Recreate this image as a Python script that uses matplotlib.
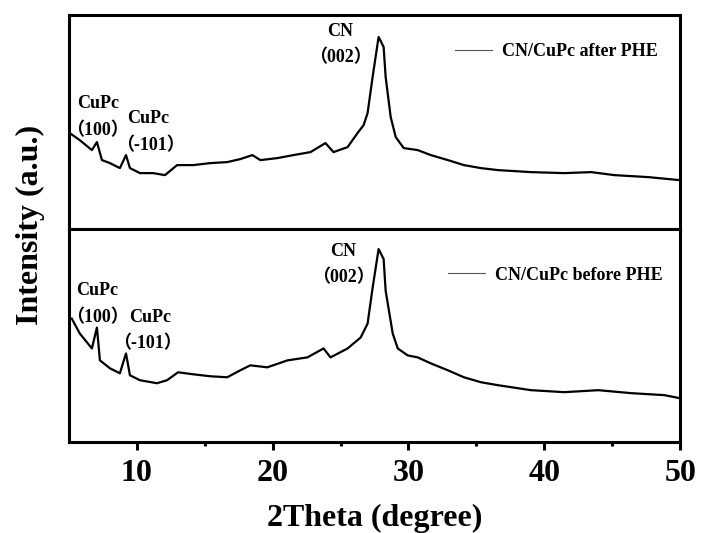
import matplotlib
matplotlib.use("Agg")
import matplotlib.pyplot as plt

# 2theta / intensity (a.u., panel-relative)
theta_after = [5.07, 5.8, 6.7, 7.07, 7.44, 8.03, 8.76, 9.21, 9.5, 10.24, 11.2, 12.08,
               12.97, 14.15, 15.41, 16.66, 17.62, 18.51, 19.1, 20.35, 21.53, 22.79,
               23.89, 24.48, 25.52, 26.25, 26.7, 26.99, 27.36, 27.8, 28.17, 28.32,
               28.69, 29.06, 29.65, 30.68, 31.64, 32.9, 34.08, 35.33, 36.59, 39.02,
               41.46, 43.45, 45.15, 47.66, 49.94]
int_after = [96, 89, 79, 87, 69, 66, 61, 74, 61, 56, 56, 54,
             64, 64, 66, 67, 70, 74, 69, 71, 74, 77,
             86, 77, 82, 96, 104, 116, 152, 192, 182, 152,
             112, 92, 81, 79, 74, 69, 64, 61, 59, 57,
             56, 57, 54, 52, 49]

theta_before = [5.22, 5.81, 6.7, 7.07, 7.29, 8.03, 8.76, 9.21, 9.5, 10.24, 11.49, 12.23,
                13.04, 14.15, 15.41, 16.66, 17.62, 18.36, 19.61, 21.09, 22.56, 23.75,
                24.26, 25.52, 26.48, 26.99, 27.36, 27.8, 28.17, 28.32, 28.84, 29.21,
                29.94, 30.68, 31.64, 32.9, 34.08, 35.33, 36.59, 39.02, 41.46, 43.97,
                46.4, 48.84, 49.94]
int_before = [124, 109, 94, 115, 82, 74, 69, 89, 67, 62, 59, 62,
              70, 68, 66, 65, 72, 77, 75, 82, 85, 94,
              85, 94, 105, 119, 155, 194, 184, 152, 109, 94,
              87, 85, 79, 72, 65, 60, 57, 52, 50, 52,
              49, 47, 44]

labels = ["CN/CuPc after PHE", "CN/CuPc before PHE"]
# peak labels: (text, 2theta, intensity) for each panel
notes_after = [("CN", 25.0, 197), ("（002）", 25.0, 171),
               ("CuPc", 7.14, 126), ("（100）", 7.14, 99),
               ("CuPc", 10.83, 111), ("（-101）", 10.98, 84)]
notes_before = [("CN", 25.2, 192), ("（002）", 25.2, 165),
                ("CuPc", 7.07, 152), ("（100）", 7.07, 125),
                ("CuPc", 11.0, 125), ("（-101）", 10.75, 99)]

fam = ["Liberation Serif", "Noto Sans CJK SC"]
plt.rcParams["font.family"] = fam
plt.rcParams["font.weight"] = "bold"

fig = plt.figure(figsize=(7.02, 5.33), dpi=100)
ax1 = fig.add_axes([0.098, 0.570, 0.871, 0.402])
ax2 = fig.add_axes([0.098, 0.171, 0.871, 0.399], sharex=ax1)

panels = [(ax1, theta_after, int_after, notes_after, labels[0], (0.964, 0.827)),
          (ax2, theta_before, int_before, notes_before, labels[1], (0.972, 0.784))]

for ax, x, y, notes, lab, anc in panels:
    ax.plot(x, y, color="black", lw=1.6, label=lab)
    ax.set_ylim(0, 214)
    ax.set_yticks([])
    for s in ax.spines.values():
        s.set_linewidth(2.2)
    for t, nx, ny in notes:
        ax.text(nx, ny, t, ha="center", va="center", fontsize=13,
                fontweight="bold", family=fam)
    leg = ax.legend(loc="center right", bbox_to_anchor=anc, frameon=False,
                    borderaxespad=0, borderpad=0, handlelength=2.0,
                    handletextpad=0.6, prop={"size": 13, "weight": "bold"})
    for h in leg.get_lines():
        h.set_linewidth(0.8)
        h.set_color("#555555")

ax1.set_xlim(5, 50)
ax1.tick_params(axis="x", which="both", bottom=False, labelbottom=False)
ax2.set_xticks([10, 20, 30, 40, 50])
ax2.set_xticks([15, 25, 35, 45], minor=True)
ax2.tick_params(axis="x", which="major", direction="out", length=6, width=2.2,
                labelsize=23, pad=6)
ax2.tick_params(axis="x", which="minor", direction="out", length=3, width=2.2)
for lb in ax2.get_xticklabels():
    lb.set_fontweight("bold")

ax2.set_xlabel("2Theta (degree)", fontsize=23, fontweight="bold", labelpad=12)
fig.text(0.043, 0.578, "Intensity (a.u.)", rotation=90, ha="center", va="center",
         fontsize=23, fontweight="bold")

fig.savefig("out.png", dpi=100)
